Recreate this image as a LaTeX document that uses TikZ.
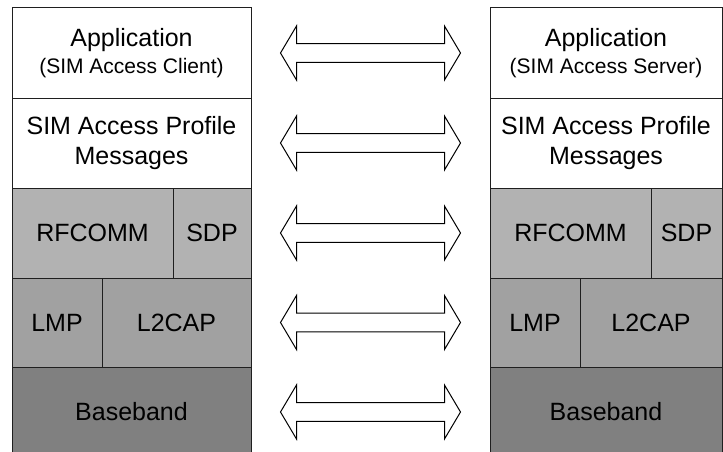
\documentclass[tikz,border=0pt]{standalone}
\usepackage{fontspec}
\setmainfont{Liberation Sans}
\usetikzlibrary{calc}

\definecolor{gridline}{gray}{0.12}
\definecolor{upperlayer}{gray}{0.70}
\definecolor{midlayer}{gray}{0.63}
\definecolor{lowlayer}{gray}{0.50}

\tikzset{
  layer/.style={draw=gridline, line width=1pt, rectangle, inner sep=0pt,
    outer sep=0pt, anchor=north west, align=center,
    font=\fontsize{25}{30}\selectfont},
  pics/biarrow/.style={code={
    \draw[line width=1pt, draw=black, fill=white, line join=miter]
      (-90,0) -- (-74,-27) -- (-74,-9.3) -- (74,-9.3) -- (74,-27) -- (90,0)
      -- (74,27) -- (74,9.3) -- (-74,9.3) -- (-74,27) -- cycle;}}
}

% One protocol stack: #1 name prefix, #2 left edge, #3 width, #4 role
\newcommand\protostack[4]{%
  \node[layer, fill=white, minimum width=#3pt, minimum height=90pt]
    (#1app) at (#2,8) {Application\\[-3pt]{\fontsize{21}{25}\selectfont(SIM Access #4)}};
  \node[layer, fill=white, minimum width=#3pt, minimum height=90pt]
    (#1msg) at (#2,98) {SIM Access Profile\\Messages};
  \node[layer, fill=upperlayer, minimum width=161pt, minimum height=90pt]
    (#1rf) at (#2,188) {RFCOMM};
  \node[layer, fill=upperlayer, minimum width={#3pt-161pt}, minimum height=90pt]
    (#1sdp) at ({#2+161},188) {SDP};
  \node[layer, fill=midlayer, minimum width=90pt, minimum height=89pt]
    (#1lmp) at (#2,278) {LMP};
  \node[layer, fill=midlayer, minimum width={#3pt-90pt}, minimum height=89pt]
    (#1ltc) at ({#2+90},278) {L2CAP};
  \node[layer, fill=lowlayer, minimum width=#3pt, minimum height=90pt]
    (#1bb) at (#2,367) {Baseband};
}

\begin{document}
\begin{tikzpicture}[x=1pt, y=-1pt]
  \useasboundingbox (0,0) rectangle (723,452);
  \clip (0,0) rectangle (723,452);

  \protostack{L}{12}{239}{Client}
  \protostack{R}{490}{232}{Server}

  % peer-to-peer links between matching layers
  \foreach \a/\b in {Lapp/Rapp, Lmsg/Rmsg, Lsdp/Rrf, Lltc/Rlmp, Lbb/Rbb}
    \pic at ($(\a.east)!0.5!(\b.west)$) {biarrow};
\end{tikzpicture}
\end{document}
